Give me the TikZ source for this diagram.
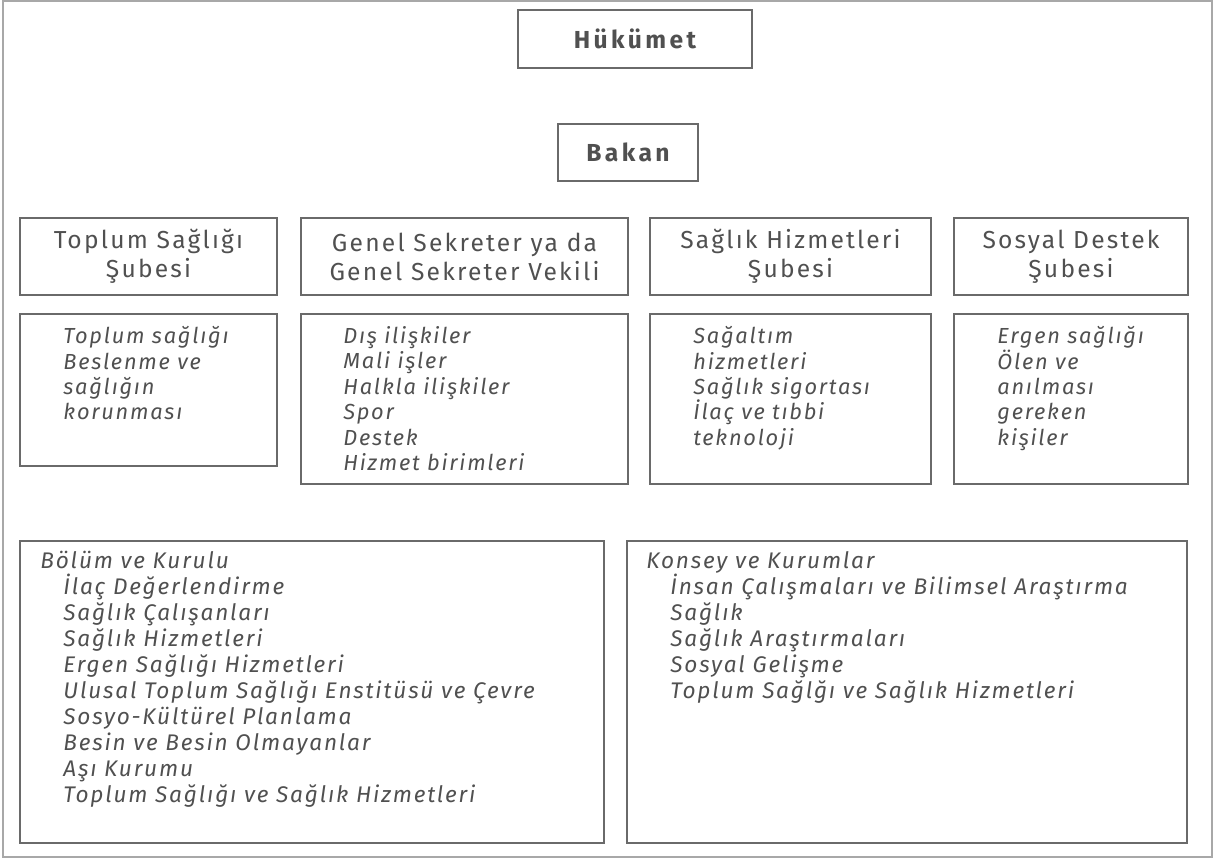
\documentclass[tikz,border=0pt]{standalone}
\usepackage{fontspec}
\setmainfont{Fira Sans}[LetterSpace=8]
\definecolor{txt}{HTML}{505050}
\definecolor{ln}{HTML}{6A6A6A}
\definecolor{frm}{HTML}{A8A8A8}
\begin{document}
\begin{tikzpicture}[x=0.5pt,y=-0.5pt,
  box/.style={draw=ln,line width=1pt,inner sep=0pt},
  title/.style={text=txt,font={\fontsize{12.3}{14}\selectfont\bfseries\addfontfeatures{LetterSpace=14}}},
  head/.style={text=txt,align=center,font={\fontsize{12.3}{14.5}\selectfont\addfontfeatures{LetterSpace=9}}},
  list/.style={text=txt,align=left,anchor=north west,inner sep=0pt,font={\fontsize{10.9}{12.7}\selectfont\itshape}},
  biglist/.style={text=txt,align=left,anchor=north west,inner sep=0pt,font={\fontsize{11.3}{13}\selectfont\itshape}}]
\useasboundingbox (0,0) rectangle (1214,859);
\draw[frm,line width=0.8pt] (3,1) rectangle (1212,857);
% top boxes
\node[box,minimum width=117pt,minimum height=29pt,anchor=north west,title] (huk) at (517,9) {Hükümet};
\node[box,minimum width=70pt,minimum height=28.5pt,anchor=north west,title] (bak) at (557,123) {Bakan};
% header boxes
\node[box,minimum width=128.5pt,minimum height=38.5pt,anchor=north west,head] (h1) at (19,217) {Toplum Sağlığı\\Şubesi};
\node[box,minimum width=163.5pt,minimum height=38.5pt,anchor=north west,head] (h2) at (300,217) {Genel Sekreter ya da\\Genel Sekreter Vekili};
\node[box,minimum width=140.5pt,minimum height=38.5pt,anchor=north west,head] (h3) at (649,217) {Sağlık Hizmetleri\\Şubesi};
\node[box,minimum width=117pt,minimum height=38.5pt,anchor=north west,head] (h4) at (953,217) {Sosyal Destek\\Şubesi};
% list boxes
\node[box,minimum width=128.5pt,minimum height=76pt,anchor=north west] (b1) at (19,313) {};
\node[box,minimum width=163.5pt,minimum height=85pt,anchor=north west] (b2) at (300,313) {};
\node[box,minimum width=140.5pt,minimum height=85pt,anchor=north west] (b3) at (649,313) {};
\node[box,minimum width=117pt,minimum height=85pt,anchor=north west] (b4) at (953,313) {};
\node[list] (t1) at (63,326) {Toplum sağlığı\\Beslenme ve\\sağlığın\\korunması};
\node[list] (t2) at (343,326) {Dış ilişkiler\\Mali işler\\Halkla ilişkiler\\Spor\\Destek\\Hizmet birimleri};
\node[list] (t3) at (693,326) {Sağaltım\\hizmetleri\\Sağlık sigortası\\İlaç ve tıbbi\\teknoloji};
\node[list] (t4) at (997,326) {Ergen sağlığı\\Ölen ve\\anılması\\gereken\\kişiler};
% bottom boxes
\node[box,minimum width=292pt,minimum height=151pt,anchor=north west] (bl) at (19,540) {};
\node[box,minimum width=280pt,minimum height=151pt,anchor=north west] (br) at (626,540) {};
\node[biglist] (tl) at (40,551) {Bölüm ve Kurulu\\
\hspace*{11.5pt}İlaç Değerlendirme\\
\hspace*{11.5pt}Sağlık Çalışanları\\
\hspace*{11.5pt}Sağlık Hizmetleri\\
\hspace*{11.5pt}Ergen Sağlığı Hizmetleri\\
\hspace*{11.5pt}Ulusal Toplum Sağlığı Enstitüsü ve Çevre\\
\hspace*{11.5pt}Sosyo-Kültürel Planlama\\
\hspace*{11.5pt}Besin ve Besin Olmayanlar\\
\hspace*{11.5pt}Aşı Kurumu\\
\hspace*{11.5pt}Toplum Sağlığı ve Sağlık Hizmetleri};
\node[biglist] (tr) at (646,551) {Konsey ve Kurumlar\\
\hspace*{12pt}İnsan Çalışmaları ve Bilimsel Araştırma\\
\hspace*{12pt}Sağlık\\
\hspace*{12pt}Sağlık Araştırmaları\\
\hspace*{12pt}Sosyal Gelişme\\
\hspace*{12pt}Toplum Sağlğı ve Sağlık Hizmetleri};
\end{tikzpicture}
\end{document}
